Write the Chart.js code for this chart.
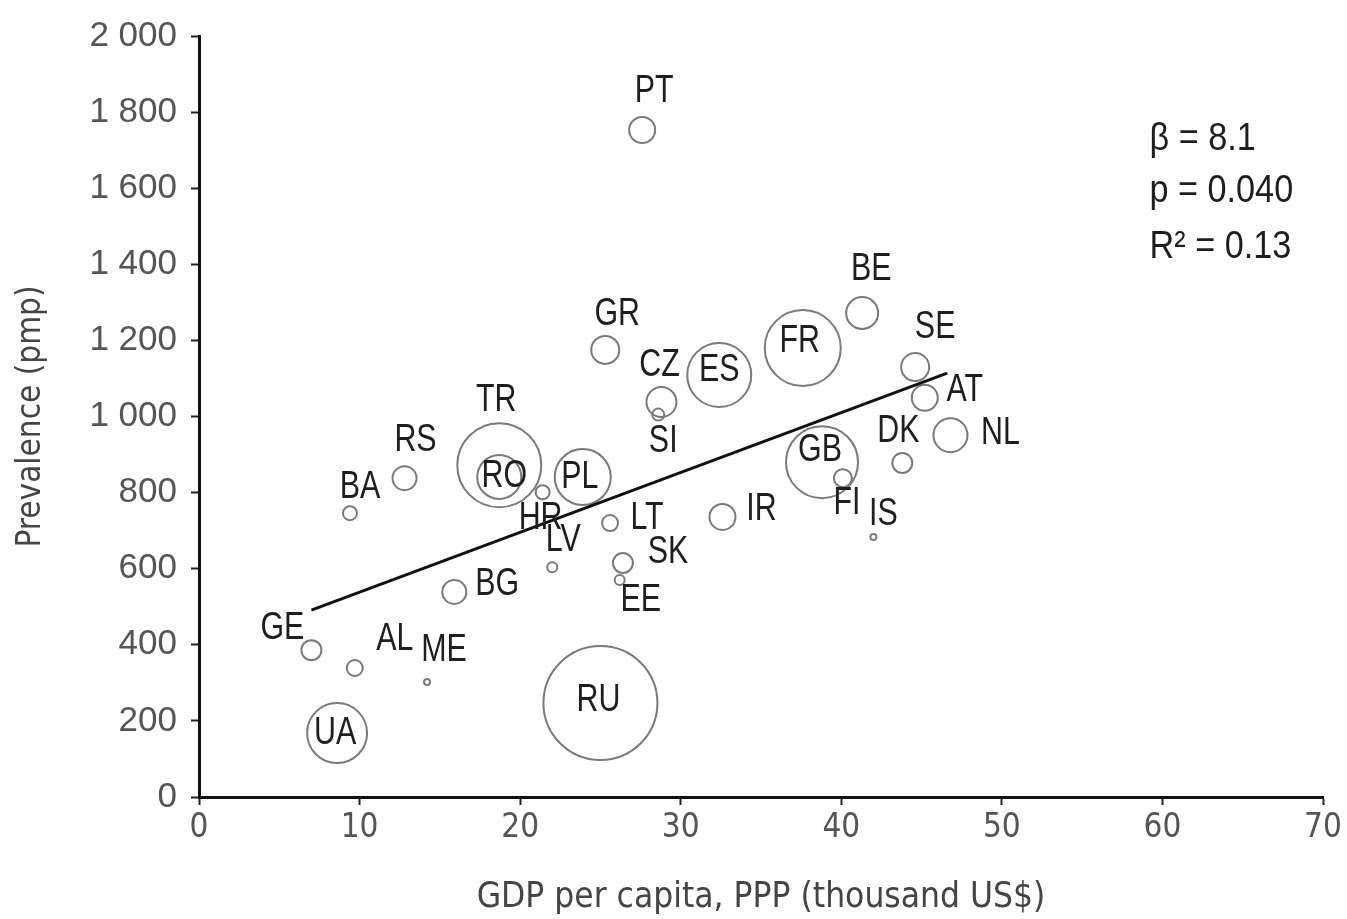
<!DOCTYPE html>
<html>
<head>
<meta charset="utf-8">
<script src="https://cdn.jsdelivr.net/npm/chart.js@4/dist/chart.umd.min.js"></script>
<style>
  html, body { margin: 0; padding: 0; background: #fff; }
</style>
</head>
<body>
<canvas id="chart" width="1347" height="919"></canvas>
<script>
// data
const countries = ['PT','GR','CZ','SI','ES','FR','BE','SE','AT','NL','DK','GB','FI','IS','IR','LT','SK','EE','LV','HR','PL','TR','RO','RS','BA','BG','GE','AL','ME','UA','RU'];
const gdp =        [27.6, 25.3, 28.8, 28.6, 32.4, 37.6, 41.3, 44.6, 45.2, 46.8, 43.8, 38.8, 40.1, 42.0, 32.6, 25.6, 26.4, 26.2, 22.0, 21.4, 23.9, 18.7, 18.7, 12.8,  9.4, 15.9,  7.0,  9.7, 14.2,  8.6, 25.0];
const prevalence = [1753, 1175, 1038, 1005, 1109, 1180, 1272, 1130, 1049,  951,  878,  880,  838,  683,  736,  720,  615,  570,  604,  801,  841,  872,  841,  838,  746,  539,  386,  339,  302,  168,  247];
// bubble radius (relative population size)
const bubbleSize = [13, 14, 15, 6, 32, 38, 16, 14, 13, 17, 10, 36, 9, 3, 13, 8, 10, 5, 5, 7, 28, 42, 22, 12, 7, 12, 10, 8, 3, 30, 57];

// regression line end points
const fitX = [7.0, 46.6];
const fitY = [491, 1114];

const statsText = ['\u03B2 = 8.1', 'p = 0.040', 'R\u00B2 = 0.13'];
const xTitle = 'GDP per capita, PPP (thousand US$)';
const yTitle = 'Prevalence (pmp)';

// label offsets from bubble centre, px
const labelOffsets = {
  PT:[12,-38], GR:[12,-35], CZ:[-2,-37], SI:[5,27], ES:[0,-5], FR:[-3,-6],
  BE:[9,-43], SE:[20,-40], AT:[40,-7], NL:[50,-2], DK:[-4,-31], GB:[-2,-12],
  FI:[4,25], IS:[10,-23], IR:[39,-7], LT:[37,-5], SK:[45,-10], EE:[21,20],
  LV:[11,-27], HR:[-2,26], PL:[-3,1], TR:[-3,-65], RO:[5,0], RS:[11,-38],
  BA:[10,-26], BG:[43,-7], GE:[-29,-22], AL:[40,-28], ME:[17,-32], UA:[-2,0], RU:[-2,-3]
};

const COND = '"DejaVu Sans Condensed", "DejaVu Sans", sans-serif';
const SANS = '"Liberation Sans", Arial, sans-serif';

// draw text squeezed horizontally (the original uses a narrow face)
function narrowText(ctx, text, x, y, squeeze, align) {
  ctx.save();
  ctx.translate(x, y);
  ctx.scale(squeeze, 1);
  ctx.textAlign = align;
  ctx.fillText(text, 0, 0);
  ctx.restore();
}

const labelPlugin = {
  id: 'labels',
  afterDatasetsDraw(chart) {
    const ctx = chart.ctx;
    const meta = chart.getDatasetMeta(1);
    ctx.save();
    ctx.font = '38px ' + SANS;
    ctx.fillStyle = '#1e1e1e';
    ctx.textBaseline = 'middle';
    meta.data.forEach((pt, i) => {
      const off = labelOffsets[countries[i]] || [0, 0];
      narrowText(ctx, countries[i], pt.x + off[0], pt.y + off[1], 0.8, 'center');
    });
    // regression stats
    const xs = chart.scales.x, ys = chart.scales.y;
    const sx = xs.getPixelForValue(59.2);
    const rowsY = [1727, 1590, 1443];
    statsText.forEach((t, i) => narrowText(ctx, t, sx, ys.getPixelForValue(rowsY[i]), 0.9, 'left'));
    ctx.restore();
  }
};

const fmt = v => v >= 1000 ? Math.floor(v / 1000) + ' ' + String(v % 1000).padStart(3, '0') : String(v);

new Chart(document.getElementById('chart'), {
  type: 'bubble',
  data: {
    datasets: [{
      type: 'line',
      data: fitX.map((x, i) => ({ x: x, y: fitY[i] })),
      borderColor: '#111',
      borderWidth: 3,
      pointRadius: 0,
      fill: false,
      order: 0
    }, {
      data: countries.map((c, i) => ({ x: gdp[i], y: prevalence[i], r: bubbleSize[i] })),
      backgroundColor: 'rgba(0,0,0,0)',
      borderColor: '#7a7a7a',
      borderWidth: 2,
      order: 1
    }]
  },
  options: {
    responsive: false,
    animation: false,
    events: [],
    layout: { autoPadding: false, padding: { left: 0, right: 24, top: 36, bottom: 0 } },
    plugins: { legend: { display: false }, tooltip: { enabled: false } },
    scales: {
      x: {
        type: 'linear',
        min: 0, max: 70,
        afterFit: s => { s.height = 122; s.paddingLeft = 0; s.paddingRight = 0; },
        ticks: { stepSize: 10, color: '#555', padding: 4, font: { family: COND, size: 33 } },
        grid: { drawOnChartArea: false, drawTicks: true, tickLength: 8, tickColor: '#222', tickWidth: 2 },
        border: { color: '#111', width: 3 },
        title: { display: true, text: xTitle, color: '#444', font: { family: COND, size: 35 }, padding: { top: 3, bottom: 0 } }
      },
      y: {
        type: 'linear',
        min: 0, max: 2000,
        afterFit: s => { s.width = 199; s.paddingTop = 0; s.paddingBottom = 0; },
        ticks: { stepSize: 200, color: '#555', padding: 14, font: { family: SANS, size: 35 }, callback: fmt },
        grid: { drawOnChartArea: false, drawTicks: true, tickLength: 8, tickColor: '#222', tickWidth: 2 },
        border: { color: '#111', width: 3 },
        title: { display: true, text: yTitle, color: '#444', font: { family: COND, size: 33 }, padding: { top: 12, bottom: 0 } }
      }
    }
  },
  plugins: [labelPlugin]
});
</script>
</body>
</html>
